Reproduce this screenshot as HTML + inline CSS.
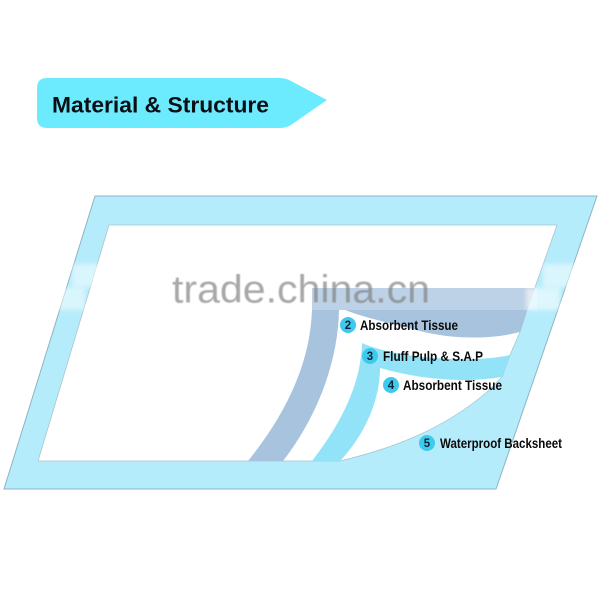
<!DOCTYPE html>
<html>
<head>
<meta charset="utf-8">
<style>
html,body{margin:0;padding:0;background:#fff;width:601px;height:601px;overflow:hidden}
svg{display:block}
text{font-family:"Liberation Sans",sans-serif}
.l{font-weight:bold;font-size:14px;fill:#0a0a0a}
.n{font-size:11.5px;font-weight:bold;fill:#123;text-anchor:middle}
</style>
</head>
<body>
<svg width="601" height="601" viewBox="0 0 601 601" xmlns="http://www.w3.org/2000/svg">
<defs>
<filter id="b" x="-40%" y="-40%" width="180%" height="180%"><feGaussianBlur stdDeviation="2"/></filter>
<filter id="s" x="-10%" y="-40%" width="120%" height="180%"><feGaussianBlur stdDeviation="0.4"/></filter>
</defs>
<rect width="601" height="601" fill="#fff"/>
<!-- header -->
<path d="M47 78H280Q286 78 291 81L327 100L291 125Q286 128 280 128H47Q37 128 37 118V88Q37 78 47 78Z" fill="#6cebff"/>
<text x="52" y="112.500" font-size="22.500" font-weight="bold" fill="#0a0f14" textLength="217" lengthAdjust="spacingAndGlyphs">Material &amp; Structure</text>
<!-- frame -->
<path fill-rule="evenodd" d="M95 196H597L496 489H4Z" fill="#b5ecfb" stroke="#8db4c4" stroke-width="1"/>
<path d="M109 225H557L527 310L520 332L510 355L502 377L487 392C445 428 395 448 340 461H38Z" fill="#fff" stroke="#a9c4cf" stroke-width="0.800"/>
<!-- blue grey band -->
<path d="M248 461C285 415 310 365 312 310V288H535L527 310L520 332C490 340 450 339 420 331C395 324 365 318 345 310L339 310C338 365 315 420 283 461Z" fill="#a7c3de"/>
<!-- light band 3 -->
<path d="M362 343C395 358 470 364 510 355L502 377C460 384 415 378 380 368C380 402 363 437 340 461H312C340 425 361 385 362 343Z" fill="#93e3f8"/>
<!-- watermark patches -->
<rect x="312" y="288" width="225" height="22" fill="#fff" opacity=".26"/>
<g filter="url(#b)">
<rect x="72" y="264" width="28" height="23" fill="#fff" opacity=".5"/>
<rect x="58" y="288" width="27" height="22" fill="#fff" opacity=".5"/>
<rect x="543" y="264" width="34" height="23" fill="#fff" opacity=".5"/>
<rect x="526" y="288" width="34" height="22" fill="#fff" opacity=".55"/>
</g>
<text x="172" y="302.500" font-size="39" fill="#7f7f7f" fill-opacity=".68" textLength="258" lengthAdjust="spacingAndGlyphs" filter="url(#s)">trade.china.cn</text>
<!-- callouts -->
<g fill="#3dcaee">
<circle cx="348" cy="325" r="8"/>
<circle cx="370" cy="356" r="8"/>
<circle cx="391" cy="385" r="8"/>
<circle cx="427" cy="443" r="8"/>
</g>
<text class="n" x="348" y="329">2</text>
<text class="n" x="370" y="360">3</text>
<text class="n" x="391" y="389">4</text>
<text class="n" x="427" y="447">5</text>
<text class="l" x="360" y="330" textLength="98" lengthAdjust="spacingAndGlyphs">Absorbent Tissue</text>
<text class="l" x="383" y="361" textLength="100" lengthAdjust="spacingAndGlyphs">Fluff Pulp &amp; S.A.P</text>
<text class="l" x="403" y="390" textLength="99" lengthAdjust="spacingAndGlyphs">Absorbent Tissue</text>
<text class="l" x="440" y="448" textLength="122" lengthAdjust="spacingAndGlyphs">Waterproof Backsheet</text>
</svg>
</body>
</html>
